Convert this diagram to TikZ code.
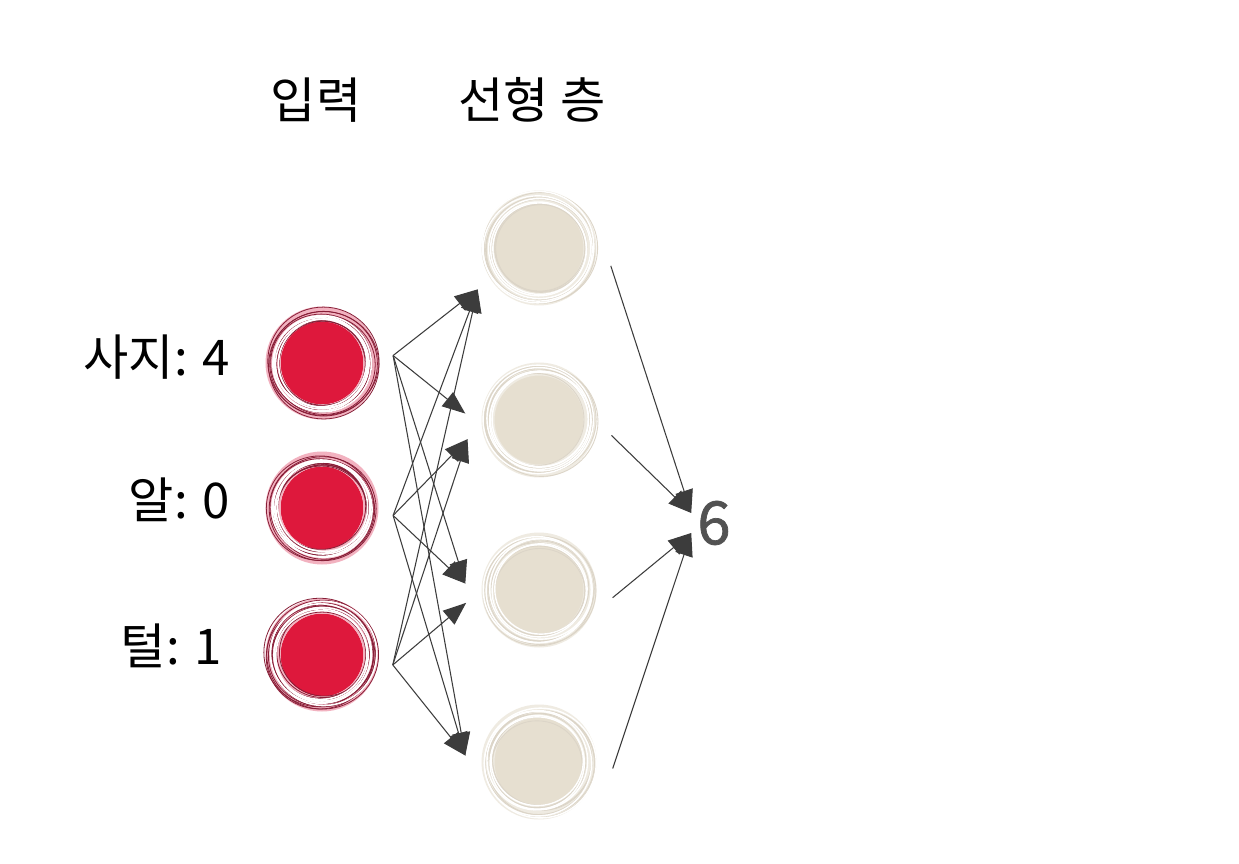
\documentclass[tikz,border=0pt]{standalone}
\usepackage{fontspec}
\setmainfont{Noto Sans CJK KR}[AutoFakeBold=1.2]
\usetikzlibrary{arrows.meta,calc}
\definecolor{inred}{RGB}{222,24,60}
\definecolor{ringred}{RGB}{135,30,55}
\definecolor{ringpink}{RGB}{242,178,192}
\definecolor{hidfill}{RGB}{230,223,208}
\definecolor{hidring}{RGB}{239,235,226}
\definecolor{hidline}{RGB}{220,213,200}
\definecolor{linkgray}{RGB}{60,60,60}

\begin{document}
\begin{tikzpicture}[x=0.02cm,y=-0.02cm,
                every node/.append style = {font=\fontsize{28}{30}\selectfont},
                innode/.style = {circle, fill=inred, minimum size=1.66cm, inner sep=0pt, outer sep=0.6cm},
                hidnode/.style = {circle, fill=hidfill, minimum size=1.8cm, inner sep=0pt, outer sep=0.58cm},
                link/.style = {linkgray, line width=0.6pt, -{Triangle[length=0.46cm,width=0.36cm]}}]
            \useasboundingbox[fill=white] (0,0) rectangle (1239,864);
            % titles
            \node (tin) at (316,100) {입력};
            \node (thid) at (532,100) {선형 층};
            % input layer
            \node[innode] (i1) at (322,363) {};
            \node[innode] (i2) at (322,508) {};
            \node[innode] (i3) at (322,655) {};
            \node[anchor=east] (l1) at (236,357) {사지: 4};
            \node[anchor=east] (l2) at (236,500) {알: 0};
            \node[anchor=east] (l3) at (228,646) {털: 1};
            % linear layer
            \node[hidnode] (h1) at (539,248) {};
            \node[hidnode] (h2) at (539,420) {};
            \node[hidnode] (h3) at (539,590) {};
            \node[hidnode] (h4) at (539,762) {};
            \node[text=black!68, font=\fontsize{34}{36}\selectfont\bfseries] (out) at (714,523) {6};
            % sketchy rings
            \pgfmathsetseed{11}
            \foreach \n in {i1,i2,i3}{
                \draw[ringpink, line width=0.3cm] (\n) circle[radius=0.98cm];
                \foreach \k in {1,...,12}{
                    \pgfmathsetmacro\dx{2.5*rand}\pgfmathsetmacro\dy{2.5*rand}\pgfmathsetmacro\r{0.85+0.28*rnd}
                    \draw[ringred, line width=0.45pt] ($(\n)+(\dx,\dy)$) circle[x radius=\r cm, y radius=\r cm-0.03cm];
                }
                \foreach \k in {1,...,5}{
                    \pgfmathsetmacro\dx{2*rand}\pgfmathsetmacro\dy{2*rand}\pgfmathsetmacro\r{0.88+0.22*rnd}
                    \draw[white, line width=0.9pt] ($(\n)+(\dx,\dy)$) circle[x radius=\r cm, y radius=\r cm-0.02cm];
                }
            }
            \foreach \n in {h1,h2,h3,h4}{
                \draw[hidring, line width=0.26cm] (\n) circle[radius=1.02cm];
                \foreach \k in {1,...,9}{
                    \pgfmathsetmacro\dx{2.5*rand}\pgfmathsetmacro\dy{2.5*rand}\pgfmathsetmacro\r{0.9+0.24*rnd}
                    \draw[hidline, line width=0.5pt] ($(\n)+(\dx,\dy)$) circle[x radius=\r cm, y radius=\r cm-0.03cm];
                }
                \foreach \k in {1,...,5}{
                    \pgfmathsetmacro\dx{2*rand}\pgfmathsetmacro\dy{2*rand}\pgfmathsetmacro\r{0.92+0.2*rnd}
                    \draw[white, line width=0.8pt] ($(\n)+(\dx,\dy)$) circle[x radius=\r cm, y radius=\r cm-0.02cm];
                }
            }
            % connections
            \foreach \s/\t in {i1.6/h1.214, i1.6/h2.175, i1.6/h3.175, i1.6/h4.175,
                               i2.-6/h1.214, i2.-6/h2.195, i2.-6/h3.175, i2.-6/h4.175,
                               i3.-8/h1.214, i3.-8/h2.195, i3.-8/h3.190, i3.-8/h4.175}
                \draw[link] (\s) -- (\t);
            \foreach \s/\d in {h1.-14/0.2cm, h2.-12/0.2cm, h3.-6/-0.2cm, h4.-5/-0.2cm}
                \draw[link] (\s) -- ([yshift=\d]out.west);
            \end{tikzpicture}
\end{document}
